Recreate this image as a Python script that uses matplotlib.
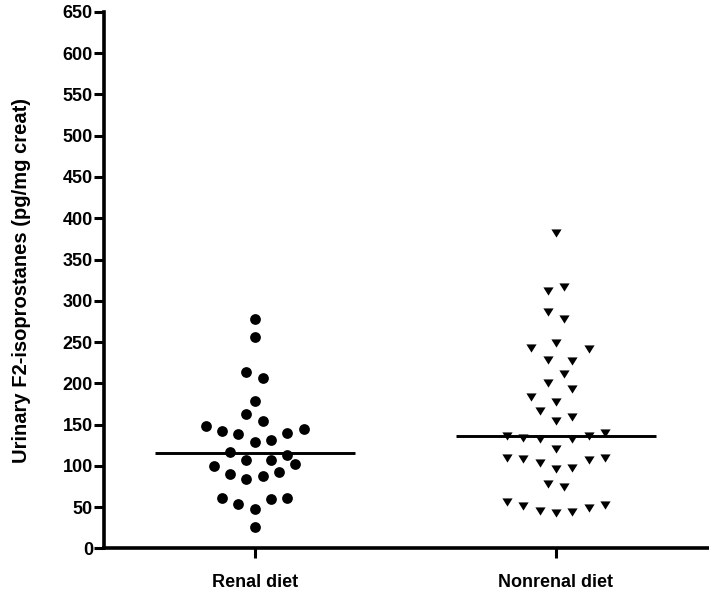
import numpy as np
import matplotlib
matplotlib.use("Agg")
import matplotlib.pyplot as plt

plt.rcParams["font.family"] = ["Liberation Sans", "DejaVu Sans"]
plt.rcParams["font.weight"] = "bold"

# ------------------------------------------------------------
# data
# ------------------------------------------------------------
groups = ["Renal diet", "Nonrenal diet"]

renal_values = [277.7, 256.6, 213.8, 206.9, 179.0, 162.5, 154.7, 148.3, 142.6, 139.0,
                139.8, 144.3, 129.3, 131.7, 116.8, 113.5, 107.4, 106.7, 100.2, 101.9,
                90.5, 83.7, 87.7, 92.2, 61.0, 54.1, 48.0, 59.4, 61.0, 26.2]
# column slot of each point in the scatter (swarm layout)
renal_slots = [0, 0, -1, 1, 0, -1, 1, -6, -4, -2,
               4, 6, 0, 2, -3, 4, -1, 2, -5, 5,
               -3, -1, 1, 3, -4, -2, 0, 2, 4, 0]

nonrenal_values = [382.2, 312.0, 316.9, 286.5, 277.5, 242.6, 249.2, 241.9, 228.8, 226.8,
                   211.8, 200.5, 193.2, 183.0, 177.3, 165.9, 154.2, 159.1,
                   136.3, 133.5, 132.3, 132.3, 135.5, 139.6, 120.9,
                   109.6, 108.0, 103.1, 96.6, 97.0, 107.1, 109.6, 77.5, 74.7,
                   55.6, 51.5, 45.4, 42.2, 43.4, 49.1, 52.3]
nonrenal_slots = [0, -1, 1, -1, 1, -3, 0, 4, -1, 2,
                  1, -1, 2, -3, 0, -2, 0, 2,
                  -6, -4, -2, 2, 4, 6, 0,
                  -6, -4, -2, 0, 2, 4, 6, -1, 1,
                  -6, -4, -2, 0, 2, 4, 6]

yticks = np.arange(0, 651, 50)

# ------------------------------------------------------------
# figure
# ------------------------------------------------------------
fig = plt.figure(figsize=(7.09, 5.98), dpi=100)
ax = fig.add_axes([0.1467, 0.0831, 0.8519, 0.8969])

slot_step = 0.0271
tri = [(-1, 0.8), (1, 0.8), (0, -0.8)]

ax.scatter(0 + np.array(renal_slots) * slot_step, renal_values,
           s=60, marker="o", color="black", linewidths=0, zorder=3)
ax.scatter(1 + np.array(nonrenal_slots) * slot_step, nonrenal_values,
           s=54, marker=tri, color="black", linewidths=0, zorder=3)

# median lines
for i, vals in enumerate([renal_values, nonrenal_values]):
    med = np.median(vals)
    ax.plot([i - 0.332, i + 0.332], [med, med], color="black", lw=2.1,
            solid_capstyle="butt", zorder=2)

ax.set_xlim(-0.5, 1.505)
ax.set_ylim(0, 650)
ax.set_yticks(yticks)
ax.set_xticks([0, 1])
ax.set_xticklabels(groups, fontsize=13, fontweight="bold")
ax.tick_params(axis="y", labelsize=13, width=2.2, length=7.5, direction="out", pad=0.5)
ax.tick_params(axis="x", width=2.2, length=7.5, direction="out", pad=11)
for lab in ax.get_yticklabels():
    lab.set_fontweight("bold")

ax.set_ylabel("Urinary F2-isoprostanes (pg/mg creat)", fontsize=14.5,
              fontweight="bold", labelpad=23)

for side in ["top", "right"]:
    ax.spines[side].set_visible(False)
for side in ["left", "bottom"]:
    ax.spines[side].set_linewidth(2.6)
    ax.spines[side].set_capstyle("projecting")

fig.savefig("out.png", dpi=100)
